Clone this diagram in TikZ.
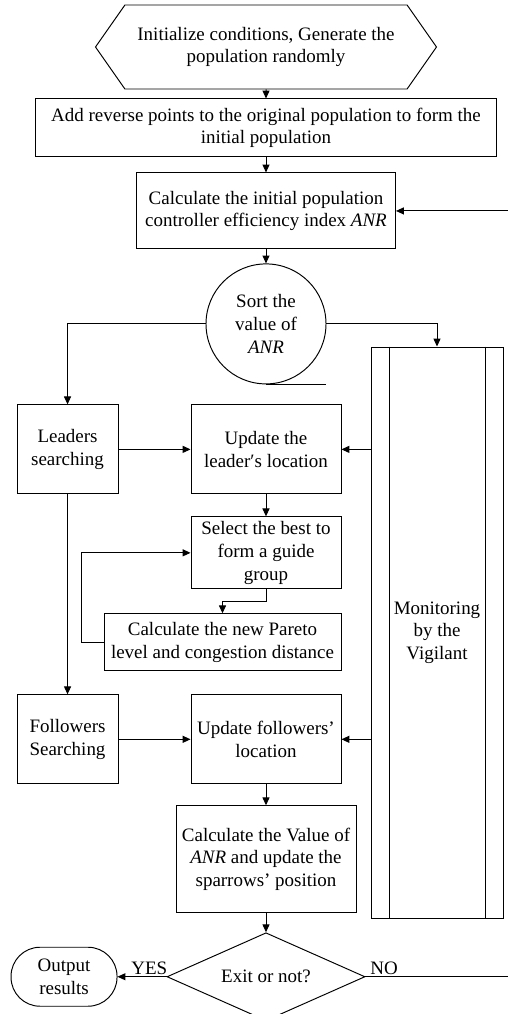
\documentclass[tikz,border=0pt]{standalone}
\usepackage{fontspec}
\setmainfont{Liberation Serif}
\usetikzlibrary{positioning,arrows.meta,shapes.geometric,shapes.symbols}

\begin{document}
\begin{tikzpicture}[
    every node/.style={font=\fontsize{10.8}{12.9}\selectfont},
    box/.style={rectangle,draw,line width=0.55pt,align=center,inner sep=1.5pt},
    arrow/.style={-{Triangle[length=4.5pt,width=4pt]},line width=0.55pt},
    line/.style={line width=0.55pt}
]
\useasboundingbox (0,0) rectangle (10.16,-20.28);
\node[signal,signal to=west and east,signal pointer angle=110,draw,line width=0.55pt,
      align=center,minimum width=6.82cm,minimum height=1.68cm] (init) at (5.32,-0.94)
      {Initialize conditions, Generate the\\population randomly};
\node[box,below=0.18cm of init,minimum width=9.22cm,minimum height=1.16cm] (addrev)
      {Add reverse points to the original population to form the\\initial population};
\node[box,below=0.30cm of addrev,minimum width=5.18cm,minimum height=1.52cm] (initanr)
      {Calculate the initial population\\controller efficiency index \textit{ANR}};
\node[circle,draw,line width=0.55pt,align=center,minimum size=2.4cm,inner sep=0pt,
      below=0.28cm of initanr] (sort) {Sort the\\value of\\\textit{ANR}};
\node[box,below=0.40cm of sort,minimum width=3.0cm,minimum height=1.78cm] (updlead)
      {Update the\\leader′s location};
\node[box,left=1.44cm of updlead,minimum width=2.02cm,minimum height=1.78cm] (leaders)
      {Leaders\\searching};
\node[box,minimum width=2.64cm,minimum height=11.42cm] (vig) at (8.74,-12.65)
      {Monitoring\\by the\\Vigilant};
\node[box,below=0.44cm of updlead,minimum width=3.0cm,minimum height=1.44cm] (select)
      {Select the best to\\form a guide\\group};
\node[box,anchor=north east,minimum width=4.74cm,minimum height=1.14cm] (pareto)
      at ([yshift=-0.48cm]select.south east)
      {Calculate the new Pareto\\level and congestion distance};
\node[box,below=2.1cm of select,minimum width=3.0cm,minimum height=1.78cm] (updfol)
      {Update followers'\\location};
\node[box,left=1.44cm of updfol,minimum width=2.02cm,minimum height=1.78cm] (followers)
      {Followers\\Searching};
\node[box,below=0.42cm of updfol,minimum width=3.6cm,minimum height=2.14cm] (calcval)
      {Calculate the Value of\\\textit{ANR} and update the\\sparrows' position};
\node[diamond,draw,line width=0.55pt,aspect=2.25,inner sep=0pt,minimum width=3.96cm,
      minimum height=1.76cm,below=0.38cm of calcval] (dec) {Exit or not?};
\node[rectangle,draw,line width=0.55pt,rounded corners=0.58cm,align=center,
      minimum width=2.12cm,minimum height=1.18cm,left=0.98cm of dec] (output)
      {Output\\results};
\coordinate (noend) at (10.16,0 |- dec.east);
\coordinate (topin) at (10.16,0 |- initanr.east);
% inner edges of the vigilant box
\draw[line] ([xshift=0.37cm]vig.north west) -- ([xshift=0.37cm]vig.south west);
\draw[line] ([xshift=-0.37cm]vig.north east) -- ([xshift=-0.37cm]vig.south east);
\draw[line] (sort.south) -- (sort.south -| sort.east);
\draw[arrow] (init) -- (addrev);
\draw[arrow] (addrev) -- (initanr);
\draw[arrow] (initanr) -- (sort);
\draw[arrow] (topin) -- (initanr.east);
\draw[arrow] (sort.west) -| (leaders.north);
\draw[arrow] (sort.east) -| (vig.north);
\draw[arrow] (leaders) -- (updlead);
\draw[arrow] (updlead.east -| vig.west) -- (updlead.east);
\draw[arrow] (updlead) -- (select);
\draw[arrow] (select.south) -- ++(0,-0.24) -| (pareto.north);
\draw[arrow] (pareto.west) -- ++(-0.44,0) |- (select.west);
\draw[arrow] (leaders) -- (followers);
\draw[arrow] (followers) -- (updfol);
\draw[arrow] (updfol.east -| vig.west) -- (updfol.east);
\draw[arrow] (updfol) -- (calcval);
\draw[arrow] (calcval) -- (dec);
\draw[arrow] (dec.west) -- node[above,pos=0.35,inner sep=1pt] {YES} (output.east);
\draw[line] (dec.east) -- node[above,pos=0.13,inner sep=1pt] {NO} (noend);
\end{tikzpicture}
\end{document}
